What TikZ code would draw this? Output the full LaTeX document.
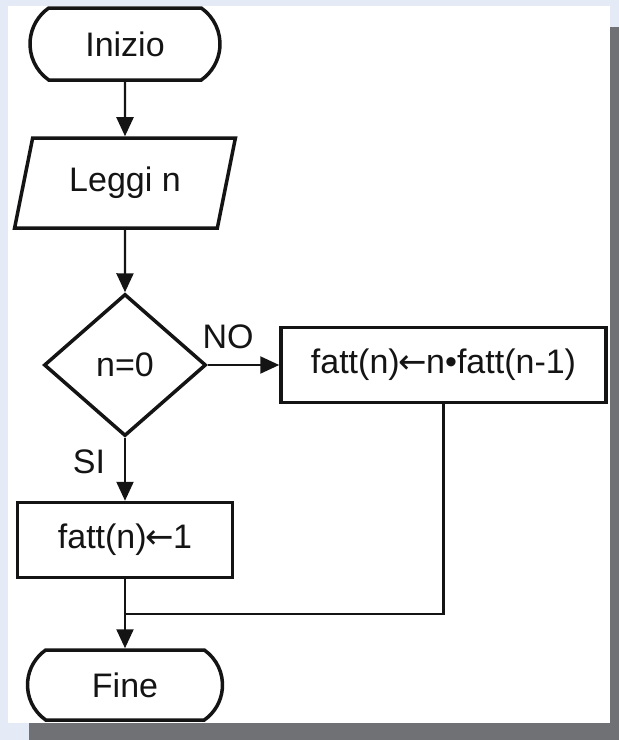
\documentclass[tikz,border=0pt]{standalone}
\usepackage{fontspec}
\setmainfont{Liberation Sans}
\newfontfamily\frecce{DejaVu Sans}
\usepackage{tikz}
\usetikzlibrary{arrows.meta}
\usetikzlibrary{shapes.geometric}
\usetikzlibrary{shapes.misc}
\definecolor{sfondo}{RGB}{229,234,247}
\definecolor{ombra}{RGB}{112,113,117}
\definecolor{tratto}{RGB}{20,20,20}
\newcommand{\assegna}{{\frecce\kern-1pt←\kern-1pt}}

\begin{document}
\begin{tikzpicture}[x=1pt, y=-1pt,
		testo/.style={font=\fontsize{34}{40}\selectfont, text=tratto},
		terminale/.style={testo, draw=tratto, line width=3.5pt, rounded rectangle, rounded rectangle arc length=110, minimum width=190pt, minimum height=72pt, inner sep=0pt},
		ingresso/.style={testo, draw=tratto, line width=3.5pt, trapezium, trapezium left angle=71, trapezium right angle=109, trapezium stretches=true, minimum width=221pt, minimum height=90pt, inner sep=0pt},
		scelta/.style={testo, draw=tratto, line width=3.5pt, diamond, minimum width=162pt, minimum height=142pt, inner sep=0pt},
		azione/.style={testo, draw=tratto, line width=3.5pt, rectangle, minimum height=75pt, inner sep=0pt},
		linea/.style={draw=tratto, line width=2.2pt},
		freccia/.style={linea, -{Triangle[length=19pt,width=17pt]}}
	]
		\useasboundingbox (0,0) rectangle (619,740);
		% sfondo e cartoncino
		\fill[sfondo] (0,0) rectangle (619,740);
		\fill[ombra] (29,27) rectangle (619,740);
		\fill[white] (8,6) rectangle (610,723);

		\node[terminale] (inizio) at (125,44) {Inizio};
		\node[ingresso] (leggi) at (125,183) {Leggi n};
		\node[scelta] (test) at (125,365) {n=0};
		\node[azione, minimum width=325pt] (ricorsivo) at (443.5,365) {fatt(n)\assegna n•fatt(n-1)};
		\node[azione, minimum width=215pt] (base) at (125,540) {fatt(n)\assegna 1};
		\node[terminale, minimum width=195pt, minimum height=70pt] (fine) at (125,685) {Fine};
		\node[testo] (no) at (228,337) {NO};
		\node[testo] (si) at (89,462) {SI};
		\coordinate (giunzione) at (125,614);

		\draw[freccia] (inizio) -- (leggi);
		\draw[freccia] (leggi) -- (test);
		\draw[freccia] (test.east) -- (ricorsivo.west);
		\draw[freccia] (test.south) -- (base.north);
		\draw[linea] (ricorsivo.south) |- (giunzione);
		\draw[freccia] (base.south) -- (fine.north);
\end{tikzpicture}
\end{document}
